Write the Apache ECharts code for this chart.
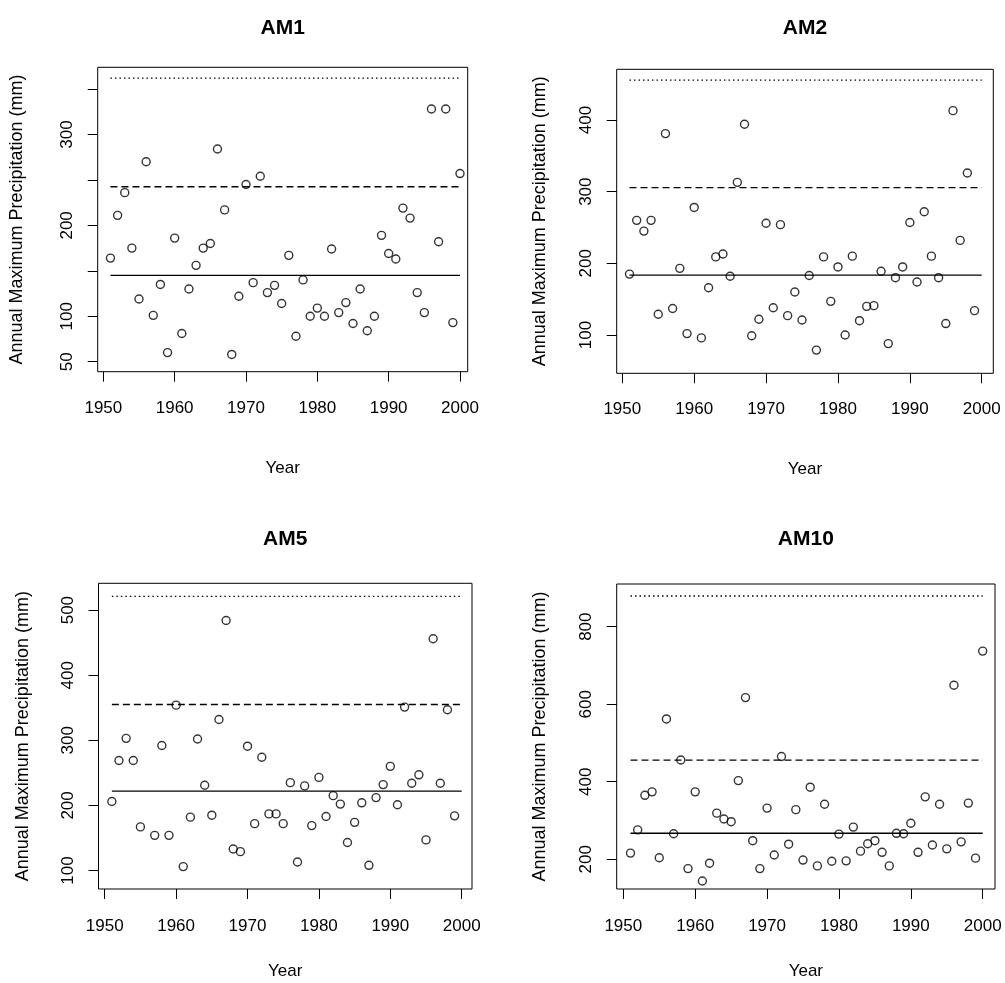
<!DOCTYPE html>
<html>
<head>
<meta charset="utf-8">
<script src="https://cdn.jsdelivr.net/npm/echarts@6/dist/echarts.min.js"></script>
<style>
html,body{margin:0;padding:0;background:#fff;}
#chart{width:1005px;height:983px;}
</style>
</head>
<body>
<div id="chart"></div>
<script>
// ---- data ----
const years = [1951,1952,1953,1954,1955,1956,1957,1958,1959,1960,
               1961,1962,1963,1964,1965,1966,1967,1968,1969,1970,
               1971,1972,1973,1974,1975,1976,1977,1978,1979,1980,
               1981,1982,1983,1984,1985,1986,1987,1988,1989,1990,
               1991,1992,1993,1994,1995,1996,1997,1998,1999,2000];
const am1 = [164,211,236,175,119,270,101,135,60,186,
             81,130,156,175,180,284,217,58,122,245,
             137,254,126,134,114,167,78,140,100,109,
             100,174,104,115,92,130,84,100,189,169,
             163,219,208,126,104,328,182,328,93,257];
const am2 = [185,260,245,260,129,381,137,193,102,278,
             96,166,209,213,182,313,394,99,122,256,
             138,254,127,160,121,183,79,209,147,195,
             100,210,120,140,141,189,88,180,195,257,
             174,272,210,180,116,413,232,326,134,null];
const am5 = [206,269,303,269,167,null,154,292,154,354,
             106,182,302,231,185,332,484,133,129,291,
             172,274,187,187,172,235,113,230,169,243,
             183,215,202,143,174,204,108,212,232,260,
             201,351,234,247,147,456,234,347,184,null];
const am10 = [216,276,365,374,204,562,266,456,176,374,
              144,190,319,304,297,403,617,248,176,332,
              211,465,239,328,198,386,183,342,195,265,
              196,283,221,240,248,218,183,267,266,293,
              218,361,237,342,227,649,245,345,203,737];
// horizontal reference levels: [solid, dashed, dotted]
const lev1 = [145, 242.5, 362];
const lev2 = [183.5, 305.5, 455.5];
const lev5 = [222, 355, 521];
const lev10 = [267, 456, 879];
const titles = ['AM1','AM2','AM5','AM10'];
const xTicks = [1950,1960,1970,1980,1990,2000];
const yTicks1 = [50,100,150,200,250,300,350];
const yLabels1 = [50,100,200,300];
const yTicks2 = [100,200,300,400];
const yTicks5 = [100,200,300,400,500];
const yTicks10 = [200,400,600,800];
const xName = 'Year';
const yName = 'Annual Maximum Precipitation (mm)';

// ---- layout ----
const panels = [
  {vals: am1, lev: lev1, yt: yTicks1, yl: yLabels1, g:{left:97.7, top:67.3, width:370, height:304.4},
   xr:[1949.21,2001.08], yr:[39.0,373.9], xGap:88, yGap:72, xMargin:28},
  {vals: am2, lev: lev2, yt: yTicks2, yl: yTicks2, g:{left:616.7, top:69.3, width:376.6, height:304},
   xr:[1949.22,2001.61], yr:[46.6,470.7], xGap:88, yGap:68, xMargin:28},
  {vals: am5, lev: lev5, yt: yTicks5, yl: yTicks5, g:{left:98.5, top:583.3, width:373.5, height:305.7},
   xr:[1949.13,2001.44], yr:[71.6,541.2], xGap:74, yGap:66, xMargin:29},
  {vals: am10, lev: lev10, yt: yTicks10, yl: yTicks10, g:{left:616.7, top:584, width:378.3, height:305},
   xr:[1949.08,2001.71], yr:[123.4,910], xGap:74, yGap:68, xMargin:29}
];
const FONT = 'Liberation Sans, Arial, Helvetica, sans-serif';

const grid = [], xAxis = [], yAxis = [], series = [], title = [];
panels.forEach((p, i) => {
  grid.push(Object.assign({show:true, borderColor:'#000', borderWidth:1, backgroundColor:'transparent', containLabel:false}, p.g));
  title.push({
    text: titles[i], left: p.g.left + p.g.width/2, top: i < 2 ? 18 : 529, textAlign:'center', padding:0,
    textStyle:{fontFamily:FONT, fontWeight:'bold', fontSize:21, color:'#000'}
  });
  xAxis.push({
    type:'value', gridIndex:i, min:p.xr[0], max:p.xr[1],
    name:xName, nameLocation:'middle', nameGap:p.xGap,
    nameTextStyle:{fontFamily:FONT, fontSize:17, color:'#000'},
    axisLine:{show:false},
    axisTick:{show:true, inside:false, length:10, customValues:xTicks, lineStyle:{color:'#000', width:1}},
    axisLabel:{show:true, customValues:xTicks, margin:p.xMargin, fontFamily:FONT, fontSize:17, color:'#000',
               formatter: v => String(Math.round(v))},
    splitLine:{show:false}
  });
  yAxis.push({
    type:'value', gridIndex:i, min:p.yr[0], max:p.yr[1],
    name:yName, nameLocation:'middle', nameGap:p.yGap,
    nameTextStyle:{fontFamily:FONT, fontSize:18, color:'#000'},
    axisLine:{show:false},
    axisTick:{show:true, inside:false, length:10, customValues:p.yt, lineStyle:{color:'#000', width:1}},
    axisLabel:{show:true, customValues:p.yl, rotate:90, margin:22, fontFamily:FONT, fontSize:17, color:'#000',
               formatter: v => String(Math.round(v))},
    splitLine:{show:false}
  });
  series.push({
    type:'scatter', xAxisIndex:i, yAxisIndex:i,
    data: years.map((y, k) => [y, p.vals[k]]).filter(d => d[1] !== null),
    symbol:'circle', symbolSize:8,
    itemStyle:{color:'rgba(0,0,0,0)', borderColor:'#000', borderWidth:1.4},
    emphasis:{disabled:true}, z:3
  });
  const styles = [
    {type:'solid', width:1.4},
    {type:[7,4], width:1.3},
    {type:[1.5,3], width:1.3}
  ];
  p.lev.forEach((v, j) => {
    series.push({
      type:'line', xAxisIndex:i, yAxisIndex:i,
      data:[[years[0], v], [years[years.length-1], v]],
      showSymbol:false, symbol:'none',
      lineStyle:Object.assign({color:'#000'}, styles[j]),
      emphasis:{disabled:true}, z:2
    });
  });
});

const chart = echarts.init(document.getElementById('chart'), null, {renderer:'canvas'});
chart.setOption({
  animation:false,
  backgroundColor:'#fff',
  title, grid, xAxis, yAxis, series
});
</script>
</body>
</html>
